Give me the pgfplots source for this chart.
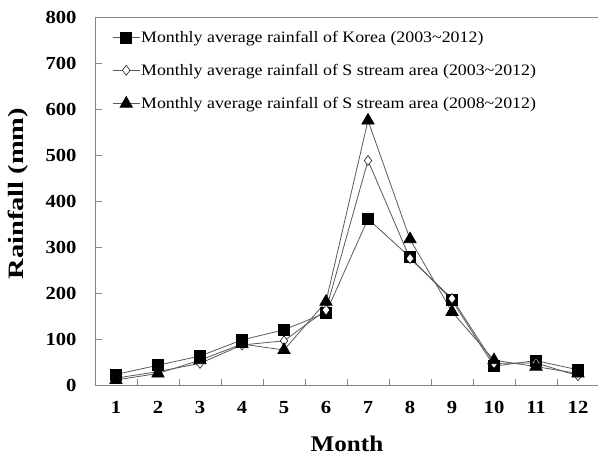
\documentclass[border=0pt]{standalone}
\usepackage{pgfplots}
\pgfplotsset{compat=1.18}
\usepackage{fontspec}
\setmainfont{Liberation Serif}[FakeStretch=1.12]
\newfontfamily\ylabfont{Liberation Serif}[FakeStretch=1.3]
\definecolor{axgray}{RGB}{134,134,134}
\definecolor{lngray}{RGB}{90,90,90}
\begin{document}
\begin{tikzpicture}
\useasboundingbox (-95bp,-70bp) rectangle (503bp,385bp);
\begin{axis}[
  at={(0,0)}, anchor=south west,
  scale only axis, width=504bp, height=368bp,
  xmin=0.5, xmax=12.5, ymin=0, ymax=800,
  xtick={1,...,12},
  minor xtick={1.5,2.5,...,11.5},
  ytick={0,100,...,800},
  xtick pos=bottom, ytick pos=left,
  tick align=inside,
  major tick length=7bp, minor tick length=6bp,
  every major x tick/.append style={draw=none},
  tick style={axgray, line width=0.8bp},
  axis line style={axgray, line width=0.8bp},
  /pgf/number format/assume math mode=true,
  ticklabel style={font=\fontsize{18.5}{20}\selectfont\bfseries},
  yticklabel style={xshift=-15bp},
  xticklabel style={yshift=-13bp},
  xlabel={Month},
  ylabel={\ylabfont Rainfall (mm)},
  xlabel style={font=\fontsize{22.5}{24}\selectfont\bfseries, at={(axis description cs:0.5,0)}, anchor=base, yshift=-66bp},
  ylabel style={font=\fontsize{22}{24}\selectfont\bfseries, at={(axis description cs:0,0.52)}, anchor=center, yshift=77bp},
  legend style={draw=none, fill=none, at={(axis description cs:0.034,0.962)}, anchor=north west,
    font=\fontsize{16}{18}\selectfont, row sep=20bp, inner sep=0pt, nodes={inner xsep=1bp, inner ysep=0pt}},
  legend cell align=left,
  legend image code/.code={\draw[mark repeat=2,mark phase=2] plot coordinates {(0bp,0bp) (13.5bp,0bp) (27bp,0bp)};},
]
\addplot[lngray, line width=0.8bp, mark=square*, mark size=5.5bp, mark options={black, fill=black}] coordinates {
(1,23) (2,43) (3,63) (4,98) (5,120) (6,157) (7,361) (8,278) (9,184) (10,41) (11,53) (12,33)};
\addlegendentry{Monthly average rainfall of Korea (2003\char`~2012)}
\addplot[lngray, line width=0.8bp, mark=diamond*, mark size=5bp, mark options={black, fill=white, line width=0.5bp}] coordinates {
(1,15) (2,29) (3,47) (4,87) (5,96) (6,163) (7,488) (8,275) (9,188) (10,47) (11,48) (12,20)};
\addlegendentry{Monthly average rainfall of S stream area (2003\char`~2012)}
\addplot[lngray, line width=0.8bp, mark=triangle*, mark size=7bp, mark options={black, fill=black}] coordinates {
(1,11) (2,25) (3,54) (4,89) (5,76) (6,181) (7,575) (8,317) (9,159) (10,54) (11,40) (12,25)};
\addlegendentry{Monthly average rainfall of S stream area (2008\char`~2012)}
\end{axis}
\end{tikzpicture}
\end{document}
